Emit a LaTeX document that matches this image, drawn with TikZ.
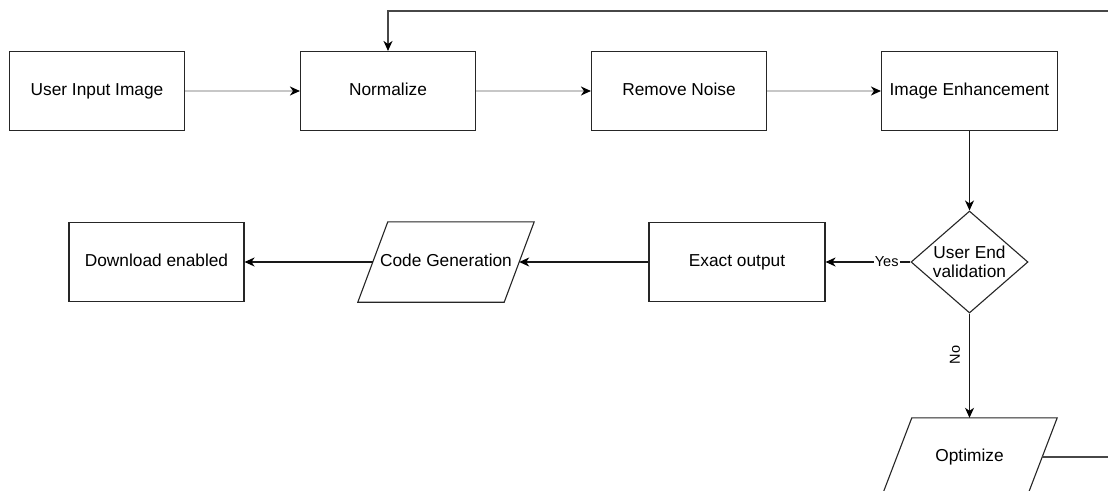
\documentclass[tikz,border=0pt]{standalone}
\usepackage{fontspec}
\setmainfont{Liberation Sans}
\usetikzlibrary{arrows.meta,shapes.geometric}
\begin{document}
\begin{tikzpicture}[x=1pt,y=-1pt,
  txt/.style={font=\fontsize{17.3}{19}\selectfont, text height=12pt, text depth=3.5pt},
  lbl/.style={font=\fontsize{14.5}{16}\selectfont, inner sep=1pt},
  edge/.style={draw=black!85, line width=1.1pt},
  box/.style={edge, rectangle, minimum width=175pt, minimum height=79pt, inner sep=0, txt},
  body/.style={rectangle, minimum width=146pt, minimum height=80pt, inner sep=0, txt},
  dec/.style={edge, diamond, minimum width=117pt, minimum height=102pt, inner sep=0},
  tip/.style={-{Stealth[length=10pt,width=9pt,inset=3pt,color=black]}},
  flow/.style={tip, draw=black!90, line width=1.1pt},
  light/.style={tip, draw=black!22, line width=1.4pt},
  back/.style={tip, draw=black!72, line width=1.2pt}]
\useasboundingbox (0,0) rectangle (1108,490);
\clip (0,0) rectangle (1108,490);
\fill[white] (0,0) rectangle (1108,490);
% top row
\node[box] (ui) at (97,91) {User Input Image};
\node[box] (norm) at (388,91) {Normalize};
\node[box] (rn) at (679,91) {Remove Noise};
\node[box, minimum width=176pt] (ie) at (969.5,91) {Image Enhancement};
% middle row
\node[box] (dl) at (156.5,262) {Download enabled};
\node[body] (cg) at (446,262) {Code Generation};
\draw[edge] ([xshift=15pt]cg.north west) -- ([xshift=15pt]cg.north east) -- ([xshift=-15pt]cg.south east) -- ([xshift=-15pt]cg.south west) -- cycle;
\node[box, minimum width=176pt] (ex) at (737,262) {Exact output};
\node[dec] (val) at (969.5,262) {};
\node[align=center, inner sep=0, font=\fontsize{17.3}{19}\selectfont] (valt) at (969.5,262) {User End\\validation};
% bottom
\node[body, minimum height=78pt, minimum width=145pt] (opt) at (969.5,457) {Optimize};
\draw[edge] ([xshift=15pt]opt.north west) -- ([xshift=15pt]opt.north east) -- ([xshift=-15pt]opt.south east) -- ([xshift=-15pt]opt.south west) -- cycle;
\coordinate (fb) at (1125,11);
% connectors
\draw[light] (ui.east) -- (norm.west);
\draw[light] (norm.east) -- (rn.west);
\draw[light] (rn.east) -- (ie.west);
\draw[flow] (ie.south) -- (val.north);
\draw[flow] (val.west) -- node[lbl, fill=white, pos=0.28] (yes) {Yes} (ex.east);
\draw[flow] (ex.west) -- (cg.east);
\draw[flow] (cg.west) -- (dl.east);
\draw[flow] (val.south) -- (opt.north);
\node[lbl, rotate=90] (no) at (955,355) {No};
\draw[back] (opt.east) -| (fb) -| (norm.north);
\end{tikzpicture}
\end{document}
